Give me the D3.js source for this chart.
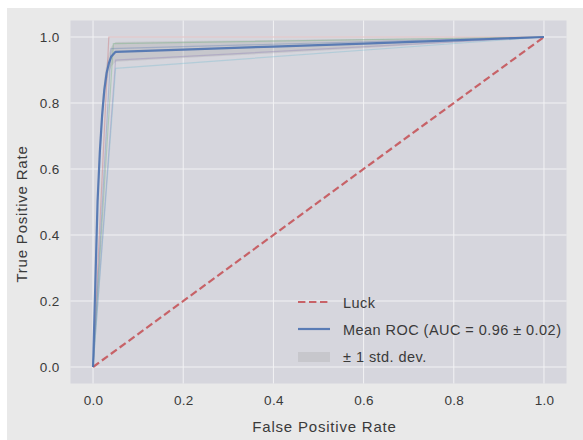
<!DOCTYPE html>
<html>
<head>
<meta charset="utf-8">
<script src="https://cdn.jsdelivr.net/npm/d3@7"></script>
<style>
  body { margin: 0; background: #fff; }
  svg text { font-family: "Liberation Sans", Arial, sans-serif; }
</style>
</head>
<body>
<div id="rocChart"></div>
<script>
// ROC curves of the cross-validation folds, their mean and the +-1 std band

const xTicks = [0.0, 0.2, 0.4, 0.6, 0.8, 1.0];
const yTicks = [0.0, 0.2, 0.4, 0.6, 0.8, 1.0];

const meanFpr = [0, 0.005, 0.01, 0.015, 0.02, 0.025, 0.03, 0.035, 0.04, 0.05, 0.2, 0.4, 0.6, 0.8, 1.0];
const meanTpr = [0, 0.25, 0.5, 0.65, 0.76, 0.84, 0.89, 0.92, 0.94, 0.955, 0.962, 0.971, 0.98, 0.99, 1.0];
const stdTpr  = [0, 0.03, 0.04, 0.04, 0.04, 0.035, 0.032, 0.03, 0.03, 0.03, 0.026, 0.02, 0.014, 0.007, 0];

// each fold: [fpr, tpr] points
const foldNames = ["fold 0", "fold 1", "fold 2", "fold 3", "fold 4"];
const foldFpr = [
  [0, 0.035, 1],
  [0, 0.045, 1],
  [0, 0.04, 1],
  [0, 0.05, 1],
  [0, 0.05, 1]
];
const foldTpr = [
  [0, 1.0, 1],
  [0, 0.98, 1],
  [0, 0.965, 1],
  [0, 0.93, 1],
  [0, 0.905, 1]
];
const foldColors = ["#C44E52", "#55A868", "#4C72B0", "#8172B2", "#64B5CD"];

const luckLabel = "Luck";
const meanLabel = "Mean ROC (AUC = 0.96 \u00b1 0.02)";
const stdLabel = "\u00b1 1 std. dev.";

function drawRoc() {
  const width = 583;
  const height = 440;
  const plot = { left: 70.5, right: 566.5, top: 20.5, bottom: 383.5 };
  const textColor = "#3a3a3a";

  const svg = d3.select("#rocChart")
    .append("svg")
    .attr("width", width)
    .attr("height", height);

  // figure background
  svg.append("rect")
    .attr("x", 7).attr("y", 8)
    .attr("width", width - 7).attr("height", height - 8)
    .attr("fill", "#e9e9e9");

  const x = d3.scaleLinear().domain([-0.05, 1.05]).range([plot.left, plot.right]);
  const y = d3.scaleLinear().domain([-0.05, 1.05]).range([plot.bottom, plot.top]);

  svg.append("rect")
    .attr("x", plot.left).attr("y", plot.top)
    .attr("width", plot.right - plot.left)
    .attr("height", plot.bottom - plot.top)
    .attr("fill", "#d6d6dd");

  // grid
  const grid = svg.append("g").attr("stroke", "#f2f2f4").attr("stroke-width", 1);
  grid.selectAll("line.gx").data(xTicks).join("line")
    .attr("x1", d => x(d)).attr("x2", d => x(d))
    .attr("y1", plot.top).attr("y2", plot.bottom);
  grid.selectAll("line.gy").data(yTicks).join("line")
    .attr("y1", d => y(d)).attr("y2", d => y(d))
    .attr("x1", plot.left).attr("x2", plot.right);

  // axes (no tick lines, labels only)
  const xAxis = svg.append("g")
    .attr("transform", `translate(0,${plot.bottom})`)
    .call(d3.axisBottom(x).tickValues(xTicks).tickFormat(d3.format(".1f")).tickSize(0).tickPadding(12));
  const yAxis = svg.append("g")
    .attr("transform", `translate(${plot.left},0)`)
    .call(d3.axisLeft(y).tickValues(yTicks).tickFormat(d3.format(".1f")).tickSize(0).tickPadding(11));
  [xAxis, yAxis].forEach(a => {
    a.select(".domain").remove();
    a.selectAll("text")
      .attr("fill", textColor)
      .style("font-size", "13.5px")
      .style("letter-spacing", "0.3px")
      .style("font-family", "'Liberation Sans', Arial, sans-serif");
  });

  const g = svg.append("g");

  // std band
  const band = meanFpr.map((f, i) => ({
    f: f,
    lo: Math.max(meanTpr[i] - stdTpr[i], 0),
    hi: Math.min(meanTpr[i] + stdTpr[i], 1)
  }));
  g.append("path")
    .datum(band)
    .attr("fill", "#9a9a9a")
    .attr("fill-opacity", 0.25)
    .attr("d", d3.area().x(d => x(d.f)).y0(d => y(d.lo)).y1(d => y(d.hi)));

  // individual folds
  const line = d3.line().x(d => x(d[0])).y(d => y(d[1]));
  foldNames.forEach((name, k) => {
    g.append("path")
      .datum(foldFpr[k].map((f, i) => [f, foldTpr[k][i]]))
      .attr("fill", "none")
      .attr("stroke", foldColors[k])
      .attr("stroke-opacity", 0.3)
      .attr("stroke-width", 1.2)
      .attr("d", line);
  });

  // luck diagonal
  g.append("path")
    .datum([[0, 0], [1, 1]])
    .attr("fill", "none")
    .attr("stroke", "#C44E52")
    .attr("stroke-opacity", 0.85)
    .attr("stroke-width", 2.2)
    .attr("stroke-dasharray", "7.4,3.6")
    .attr("d", line);

  // mean ROC
  g.append("path")
    .datum(meanFpr.map((f, i) => [f, meanTpr[i]]))
    .attr("fill", "none")
    .attr("stroke", "#4C72B0")
    .attr("stroke-opacity", 0.9)
    .attr("stroke-width", 2.2)
    .attr("stroke-linejoin", "round")
    .attr("d", line);

  // legend
  const leg = svg.append("g").attr("transform", "translate(298,302)");
  const rowH = 27;
  leg.append("line")
    .attr("x1", 0).attr("x2", 32).attr("y1", 0).attr("y2", 0)
    .attr("stroke", "#C44E52").attr("stroke-opacity", 0.85)
    .attr("stroke-width", 2.2).attr("stroke-dasharray", "7.4,3.6");
  leg.append("line")
    .attr("x1", 0).attr("x2", 32).attr("y1", rowH).attr("y2", rowH)
    .attr("stroke", "#4C72B0").attr("stroke-opacity", 0.9).attr("stroke-width", 2.2);
  leg.append("rect")
    .attr("x", 0).attr("y", 2 * rowH - 4).attr("width", 32).attr("height", 10)
    .attr("fill", "#9a9a9a").attr("fill-opacity", 0.25);
  [luckLabel, meanLabel, stdLabel].forEach((t, i) => {
    leg.append("text")
      .attr("x", 45).attr("y", i * rowH + 1)
      .attr("dy", "0.35em")
      .attr("fill", textColor)
      .style("font-size", "14.5px")
      .style("letter-spacing", "0.45px")
      .text(t);
  });

  // axis labels
  svg.append("text")
    .attr("x", (plot.left + plot.right) / 2 + 6)
    .attr("y", 427)
    .attr("dy", "0.35em")
    .attr("text-anchor", "middle")
    .attr("fill", textColor)
    .style("font-size", "15px")
    .style("letter-spacing", "0.8px")
    .text("False Positive Rate");

  svg.append("text")
    .attr("transform", "rotate(-90)")
    .attr("x", -(plot.top + plot.bottom) / 2 - 12)
    .attr("y", 22)
    .attr("dy", "0.35em")
    .attr("text-anchor", "middle")
    .attr("fill", textColor)
    .style("font-size", "15px")
    .style("letter-spacing", "0.8px")
    .text("True Positive Rate");
}

drawRoc();
</script>
</body>
</html>
